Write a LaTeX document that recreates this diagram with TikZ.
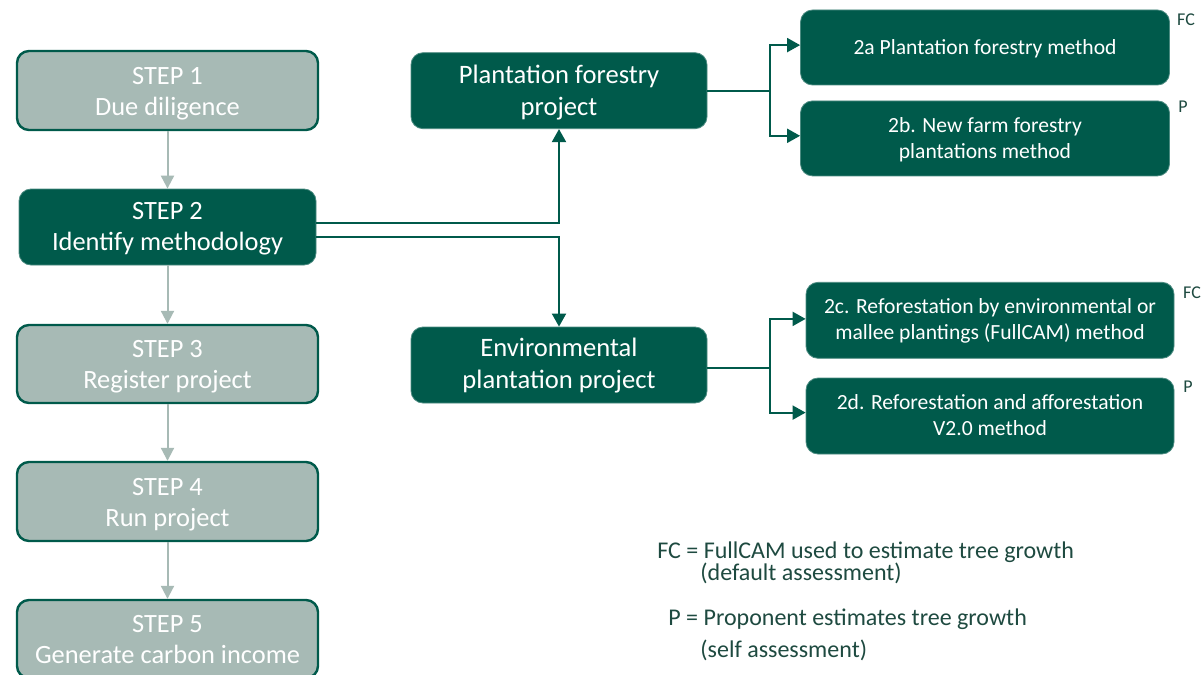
\documentclass[tikz,border=0pt]{standalone}
\usepackage{fontspec}
\setmainfont{Carlito}
\usetikzlibrary{arrows.meta,positioning}
\definecolor{dkgreen}{HTML}{005A4B}
\definecolor{grayfill}{HTML}{A7BAB5}
\definecolor{legtext}{HTML}{1E4A40}
\newcommand\shiftdown[2]{\raisebox{-#1}[\height][\depth]{#2}}
\newcommand\twolines[3][1.5pt]{\shiftdown{#1}{\begin{tabular}{@{}c@{}}#2\\#3\end{tabular}}}
\tikzset{
  stepbox/.style={draw=dkgreen,line width=1.2pt,fill=grayfill,rounded corners=6pt,
    text=white,align=center,inner sep=0pt,font=\fontsize{13.2}{15.6}\selectfont},
  darkbox/.style={draw=dkgreen!70!white,line width=0.4pt,fill=dkgreen,rounded corners=6pt,
    text=white,align=center,inner sep=0pt,font=\fontsize{13.3}{16}\selectfont},
  methbox/.style={draw=dkgreen!70!white,line width=0.4pt,fill=dkgreen,rounded corners=6pt,
    text=white,align=center,inner sep=0pt,font=\fontsize{10.8}{13}\selectfont},
  grayarr/.style={draw=grayfill,line width=1pt,-{Triangle[length=6.5pt,width=6.5pt]}},
  grnarr/.style={draw=dkgreen,line width=1pt,-{Triangle[length=6.5pt,width=7pt]}},
  grnline/.style={draw=dkgreen,line width=1pt},
  tag/.style={text=legtext,font=\fontsize{9}{10}\selectfont,inner sep=0pt},
  legend/.style={text=legtext,font=\fontsize{12}{14}\selectfont,inner sep=0pt,anchor=base west}
}
\begin{document}
\begin{tikzpicture}[x=0.5pt,y=-0.5pt]
\clip (0,0) rectangle (1202,674);
\fill[white] (0,0) rectangle (1202,674);
% left column
\node[stepbox,minimum width=150.5pt,minimum height=39.5pt] (s1) at (167.5,90.5) {\twolines{STEP 1}{Due diligence}};
\node[darkbox,font=\fontsize{13.2}{15.6}\selectfont,minimum width=148.5pt,minimum height=38pt] (s2) at (167.5,227) {\twolines[1pt]{STEP 2}{Identify methodology}};
\node[stepbox,minimum width=150.5pt,minimum height=39pt] (s3) at (167.5,364) {\twolines[1.2pt]{STEP 3}{Register project}};
\node[stepbox,minimum width=150.5pt,minimum height=39.5pt] (s4) at (167.5,501.5) {\twolines{STEP 4}{Run project}};
\node[stepbox,minimum width=150.5pt,minimum height=39pt] (s5) at (167.5,639) {\twolines{STEP 5}{Generate carbon income}};
\draw[grayarr] (s1) -- (s2);
\draw[grayarr] (s2) -- (s3);
\draw[grayarr] (s3) -- (s4);
\draw[grayarr] (s4) -- (s5);
% project boxes
\node[darkbox,minimum width=148pt,minimum height=38pt] (pf) at (559,90.7) {\twolines[1pt]{Plantation forestry}{project}};
\node[darkbox,minimum width=148pt,minimum height=38pt] (ep) at (559,365) {\twolines[0.7pt]{Environmental}{plantation project}};
\draw[grnarr] ([yshift=2.2pt]s2.east) -| (pf.south);
\draw[grnarr] ([yshift=-4.8pt]s2.east) -| (ep.north);
% method boxes
\node[methbox,minimum width=184.5pt,minimum height=37.5pt] (m2a) at (985,47.5) {\shiftdown{0.5pt}{2a Plantation forestry method}};
\node[methbox,minimum width=184.5pt,minimum height=37.5pt] (m2b) at (985,138.4) {\twolines[1pt]{2b. New farm forestry}{plantations method}};
\node[methbox,minimum width=184pt,minimum height=38pt] (m2c) at (990,320.3) {\twolines[0.5pt]{2c. Reforestation by environmental or}{mallee plantings (FullCAM) method}};
\node[methbox,minimum width=184pt,minimum height=38pt] (m2d) at (990,416) {\twolines[0.5pt]{2d. Reforestation and afforestation}{V2.0 method}};
\coordinate (j1) at (770,90.7);
\coordinate (j2) at (770,368);
\draw[grnline] (pf.east) -- (j1);
\draw[grnarr] (j1) |- ([yshift=1.2pt]m2a.west);
\draw[grnarr] (j1) |- ([yshift=1.3pt]m2b.west);
\draw[grnline] ([yshift=-1.5pt]ep.east) -- (j2);
\draw[grnarr] (j2) |- ([yshift=0.7pt]m2c.west);
\draw[grnarr] (j2) |- ([yshift=1.7pt]m2d.west);
% tags
\node[tag] (t2a) at (1186,20) {FC};
\node[tag] (t2b) at (1183,107) {P};
\node[tag] (t2c) at (1192,293) {FC};
\node[tag] (t2d) at (1188,387) {P};
% legend
\node[legend] (l1) at (657,558) {FC = FullCAM used to estimate tree growth};
\node[legend] (l2) at (700,580) {(default assessment)};
\node[legend] (l3) at (668,625) {P = Proponent estimates tree growth};
\node[legend] (l4) at (700,657) {(self assessment)};
\end{tikzpicture}
\end{document}
